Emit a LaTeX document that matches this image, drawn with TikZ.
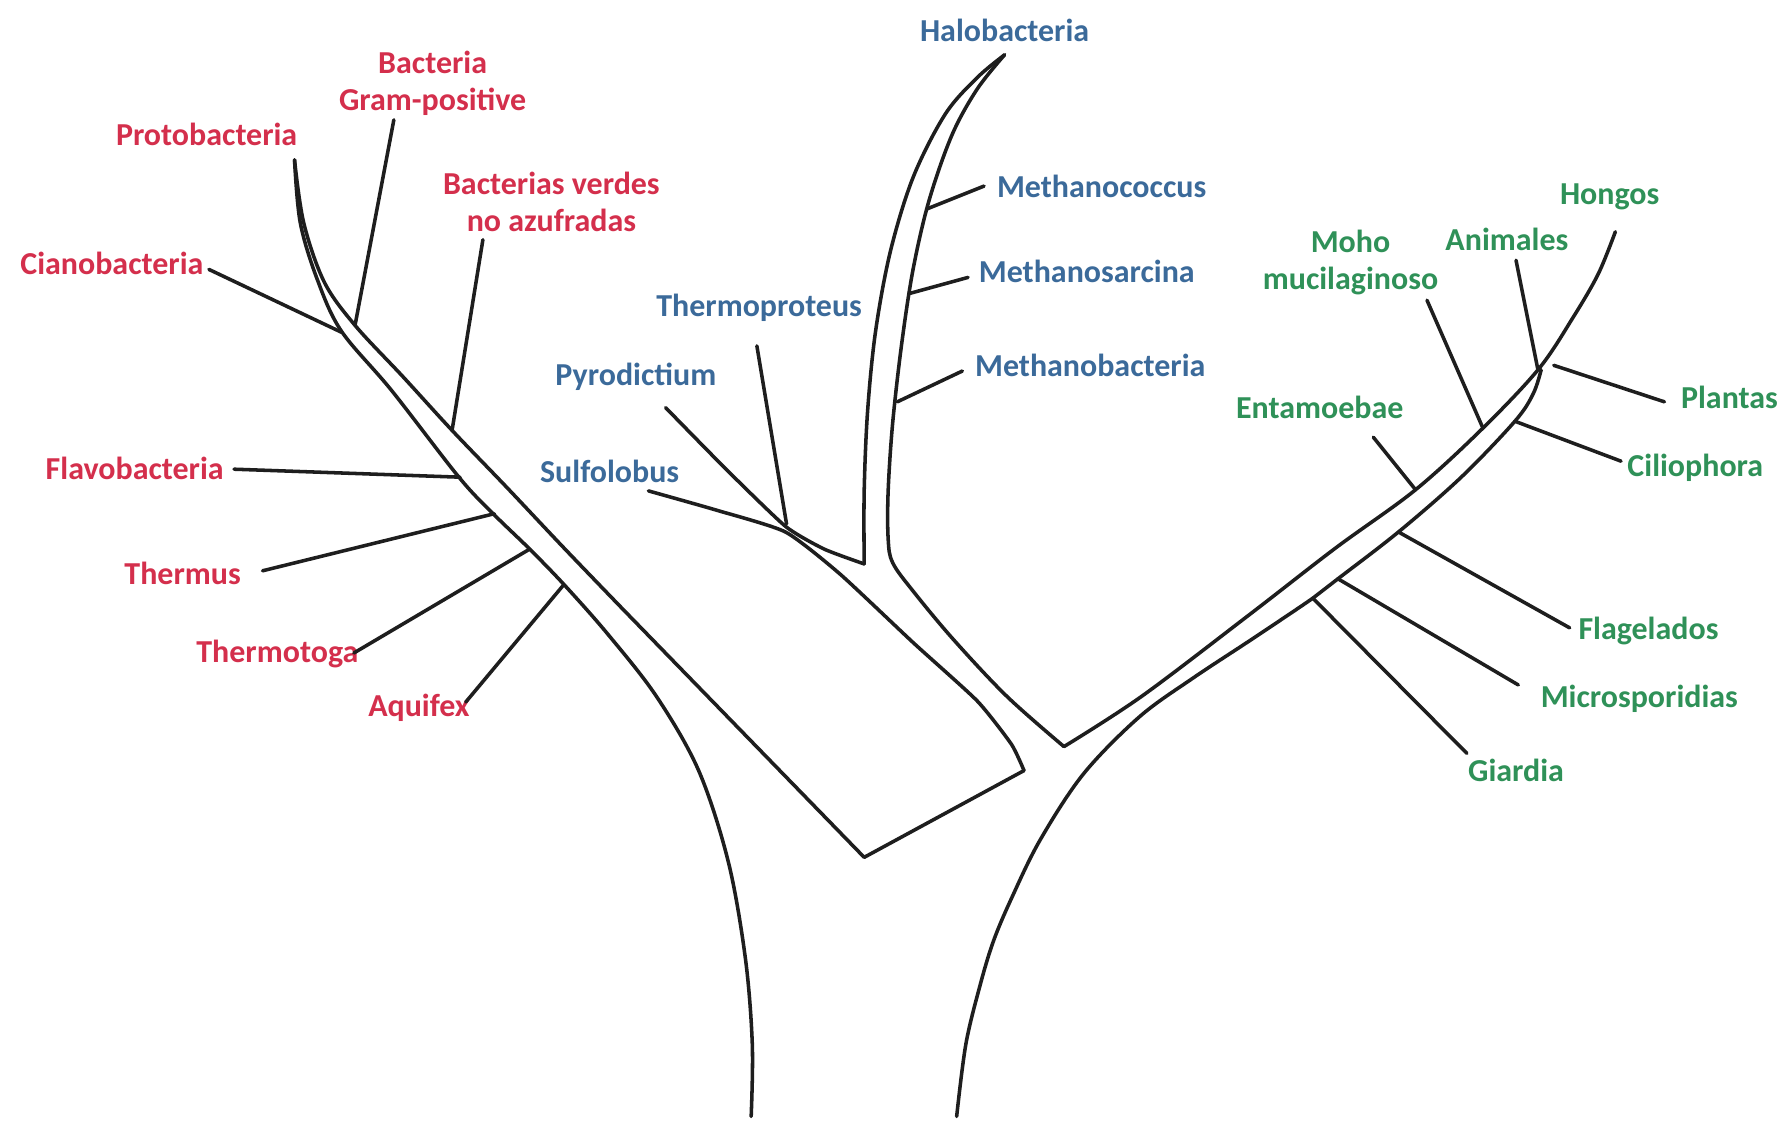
\documentclass[tikz,border=0pt]{standalone}
\usepackage{fontspec}
\setmainfont{Carlito}
\definecolor{bred}{HTML}{D42F4C}
\definecolor{bblue}{HTML}{3B6A9A}
\definecolor{bgreen}{HTML}{2F9158}
\definecolor{linec}{HTML}{1E1E1E}
\begin{document}
\begin{tikzpicture}[x=1pt,y=-1pt,
  branch/.style={draw=linec, line width=3.1pt, line cap=round, line join=round},
  lab/.style={font=\fontsize{28}{33}\selectfont\bfseries, inner sep=0pt, align=center},
  rlab/.style={lab, text=bred},
  blab/.style={lab, text=bblue},
  glab/.style={lab, text=bgreen}]
\useasboundingbox (0,0) rectangle (1568,987);
\fill[white] (0,0) rectangle (1568,987);

% ---------- labels ----------
\node[rlab] (gram) at (379,73) {Bacteria\\Gram-positive};
\node[rlab] (proto) at (181,118) {Protobacteria};
\node[rlab] (verdes) at (483,177) {Bacterias verdes\\no azufradas};
\node[rlab] (ciano) at (98,231) {Cianobacteria};
\node[rlab] (flavo) at (118,410) {Flavobacteria};
\node[rlab] (thermus) at (160,502) {Thermus};
\node[rlab] (thermotoga) at (243,573) {Thermotoga};
\node[rlab] (aquifex) at (367,620) {Aquifex};

\node[blab] (halo) at (880,27) {Halobacteria};
\node[blab] (mcoccus) at (965,163) {Methanococcus};
\node[blab] (msarcina) at (952,238) {Methanosarcina};
\node[blab] (mbact) at (955,320) {Methanobacteria};
\node[blab] (tproteus) at (665,270) {Thermoproteus};
\node[blab] (pyro) at (557,330) {Pyrodictium};
\node[blab] (sulfo) at (534,413) {Sulfolobus};

\node[glab] (hongos) at (1410,172) {Hongos};
\node[glab] (animales) at (1320,210) {Animales};
\node[glab] (moho) at (1183,230) {Moho\\mucilaginoso};
\node[glab] (plantas) at (1515,348) {Plantas};
\node[glab] (entamoebae) at (1156,357) {Entamoebae};
\node[glab] (cilio) at (1485,410) {Ciliophora};
\node[glab] (flage) at (1444,553) {Flagelados};
\node[glab] (micro) at (1436,612) {Microsporidias};
\node[glab] (giardia) at (1328,675) {Giardia};

% ---------- key points ----------
\coordinate (protoTip) at (258,140);
\coordinate (haloTip) at (880,48);
\coordinate (hongosTip) at (1415,203);
\coordinate (B) at (757,751);
\coordinate (R) at (897,675);
\coordinate (V1) at (757,494);
\coordinate (V2) at (932,654);

% ---------- Bacteria tube ----------
\draw[branch] plot[smooth,tension=0.55] coordinates {(258,140) (263,195) (278,245) (299,290) (343,342) (402,418) (432,450) (464,481) (494,512) (532,555) (575,610) (612,675) (638,755) (653,840) (659,915) (658,978)};
\draw[branch] plot[smooth,tension=0.55] coordinates {(258,140) (266,195) (284,247) (311,285) (353,330) (396,377) (444,427) (494,480) (545,533)} -- (B) -- (R);
% Archaea lower edge (continuation of Sulfolobus)
\draw[branch] plot[smooth,tension=0.35] coordinates {(568,430) (628,447) (688,466) (736,503) (800,563) (856,614) (886,652) (897,675)};
% Pyrodictium
\draw[branch] plot[smooth,tension=0.35] coordinates {(583,357) (636,411) (688,461) (722,481) (757,494)};
% Halobacteria tube
\draw[branch] plot[smooth,tension=0.55] coordinates {(757,494) (757,430) (760,360) (767,290) (780,220) (800,155) (828,100) (856,68) (880,48)};
\draw[branch] plot[smooth,tension=0.55] coordinates {(880,48) (856,78) (834,118) (814,175) (800,235) (790,300) (782,370) (778,430) (778,472) (782,493) (800,518) (835,560) (882,610) (932,654)};
% Eukaryote tube
\draw[branch] plot[smooth,tension=0.55] coordinates {(932,654) (1000,610) (1095,538) (1170,480) (1240,429) (1299,375) (1348,323) (1378,278) (1400,240) (1415,203)};
\draw[branch] plot[smooth,tension=0.55] coordinates {(838,978) (846,915) (858,865) (870,825) (886,787) (911,736) (949,678) (998,628) (1045,594) (1095,561) (1150,524) (1172,507) (1225,466) (1280,418) (1327,369) (1343,345) (1350,324)};

% ---------- leaf lines ----------
\coordinate (gramA) at (345,105);   \coordinate (gramB) at (311,285);
\coordinate (verA) at (423,210);    \coordinate (verB) at (396,377);
\coordinate (cianA) at (183,236);   \coordinate (cianB) at (299,291);
\coordinate (flavA) at (205,411);   \coordinate (flavB) at (403,418);
\coordinate (thmA) at (230,500);    \coordinate (thmB) at (433,450);
\coordinate (thgA) at (310,572);    \coordinate (thgB) at (464,481);
\coordinate (aqA) at (408,615);     \coordinate (aqB) at (494,512);
\draw[branch] (gramA) -- (gramB);
\draw[branch] (verA) -- (verB);
\draw[branch] (cianA) -- (cianB);
\draw[branch] (flavA) -- (flavB);
\draw[branch] (thmA) -- (thmB);
\draw[branch] (thgA) -- (thgB);
\draw[branch] (aqA) -- (aqB);

\coordinate (tpA) at (663,303);     \coordinate (tpB) at (689,459);
\coordinate (mcA) at (862,163);     \coordinate (mcB) at (812,183);
\coordinate (msA) at (848,243);     \coordinate (msB) at (797,257);
\coordinate (mbA) at (843,325);     \coordinate (mbB) at (786,352);
\draw[branch] (tpA) -- (tpB);
\draw[branch] (mcA) -- (mcB);
\draw[branch] (msA) -- (msB);
\draw[branch] (mbA) -- (mbB);

\coordinate (anA) at (1328,228);    \coordinate (anB) at (1347,323);
\coordinate (moA) at (1250,263);    \coordinate (moB) at (1299,375);
\coordinate (enA) at (1203,383);    \coordinate (enB) at (1240,429);
\coordinate (plA) at (1458,352);    \coordinate (plB) at (1361,320);
\coordinate (ciA) at (1420,404);    \coordinate (ciB) at (1327,369);
\coordinate (flA) at (1375,550);    \coordinate (flB) at (1225,466);
\coordinate (miA) at (1330,600);    \coordinate (miB) at (1172,507);
\coordinate (giA) at (1285,660);    \coordinate (giB) at (1150,524);
\draw[branch] (anA) -- (anB);
\draw[branch] (moA) -- (moB);
\draw[branch] (enA) -- (enB);
\draw[branch] (plA) -- (plB);
\draw[branch] (ciA) -- (ciB);
\draw[branch] (flA) -- (flB);
\draw[branch] (miA) -- (miB);
\draw[branch] (giA) -- (giB);
\end{tikzpicture}
\end{document}
